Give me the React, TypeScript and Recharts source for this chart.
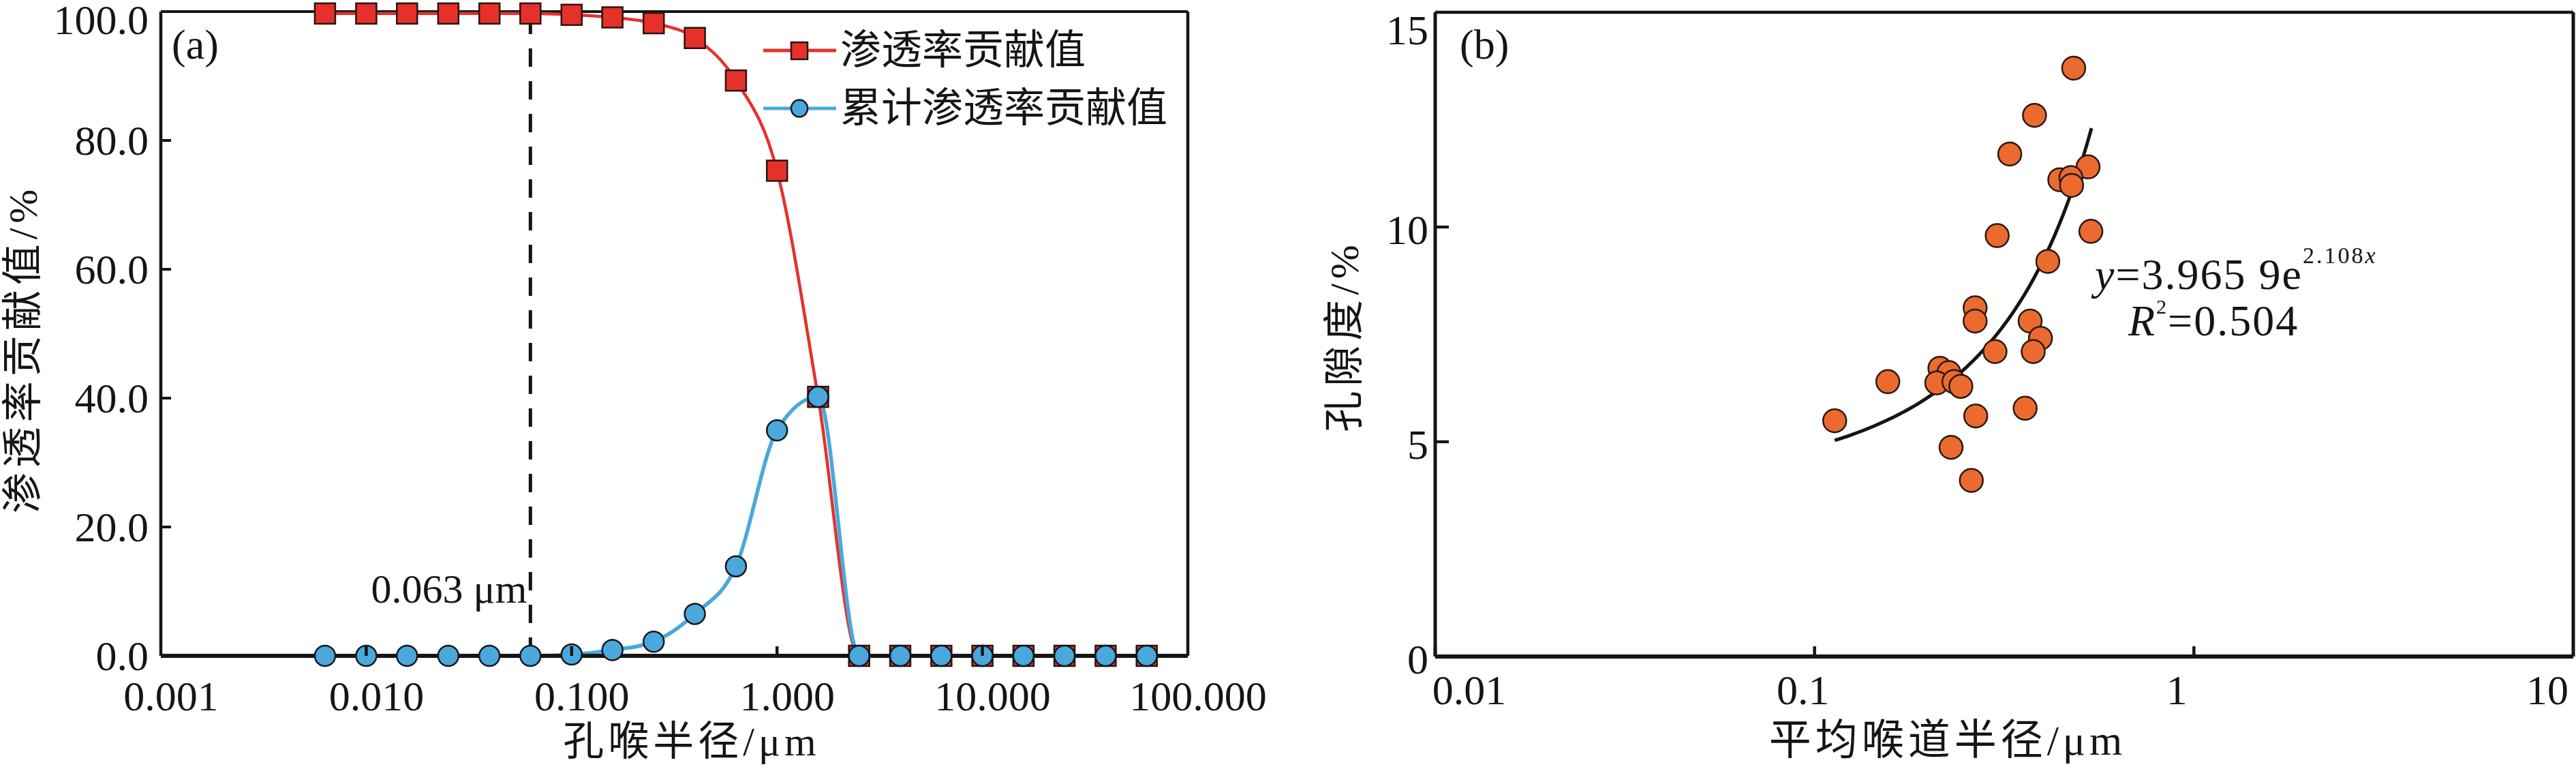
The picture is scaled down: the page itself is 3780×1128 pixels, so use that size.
import { LineChart, Line, XAxis, YAxis, ReferenceLine, Legend, ComposedChart, Scatter } from 'recharts';

// (a) pore-throat radius classes, μm
const radius = [
  0.0063, 0.01, 0.0158, 0.0251, 0.0398, 0.063, 0.1, 0.158, 0.251, 0.398, 0.631,
  1.0, 1.585, 2.51, 3.98, 6.31, 10, 15.85, 25.1, 39.8, 63.1,
];
const permContribution = [
  99.7, 99.7, 99.7, 99.7, 99.7, 99.7, 99.5, 99.1, 98.2, 95.9, 89.3,
  75.3, 40.2, 0, 0, 0, 0, 0, 0, 0, 0,
];
const cumPermContribution = [
  0, 0, 0, 0, 0, 0, 0.2, 0.9, 2.2, 6.5, 13.9,
  35.0, 40.2, 0, 0, 0, 0, 0, 0, 0, 0,
];
const radiusTicks = [0.001, 0.01, 0.1, 1, 10, 100];
const contribTicks = [0, 20, 40, 60, 80, 100];
const cutoffRadius = 0.063;

// (b) mean throat radius (μm) vs porosity (%)
const meanThroatRadius = [
  0.482, 0.38, 0.327, 0.526, 0.443, 0.474, 0.476, 0.303, 0.535, 0.412,
  0.265, 0.265, 0.37, 0.394, 0.377, 0.299, 0.214, 0.226, 0.21, 0.233,
  0.243, 0.156, 0.113, 0.266, 0.359, 0.229, 0.259,
];
const porosity = [
  13.7, 12.6, 11.7, 11.4, 11.1, 11.15, 10.97, 9.8, 9.9, 9.2,
  8.12, 7.81, 7.81, 7.41, 7.1, 7.1, 6.71, 6.61, 6.37, 6.4,
  6.29, 6.4, 5.49, 5.6, 5.78, 4.87, 4.1,
];
const meanRadiusTicks = [0.01, 0.1, 1, 10];
const porosityTicks = [0, 5, 10, 15];

// exponential fit y = a·e^(b·x) and the x span it was drawn over
const fitA = 3.9659;
const fitB = 2.108;
const fitFrom = 0.113;
const fitTo = 0.537;

const rowsA = radius.map((r, i) => ({ r, perm: permContribution[i], cum: cumPermContribution[i] }));
const pointsB = meanThroatRadius.map((x, i) => ({ x, y: porosity[i] }));
const fitLine = Array.from({ length: 41 }, (_, i) => {
  const x = fitFrom + ((fitTo - fitFrom) * i) / 40;
  return { x, y: fitA * Math.exp(fitB * x) };
});

const INK = '#151515';
const RED = '#e5312a';
const BLUE = '#4aa8dc';
const ORANGE = '#eb6a30';
const SERIF = "'Liberation Serif', 'Times New Roman', serif";
const MIXED = "'Liberation Serif', 'Noto Sans CJK SC', sans-serif";

const fmt3 = (v: number) => v.toFixed(3);

function TickBottomA(props: any) {
  const { x, y, payload, index } = props;
  const inner = index > 0 && index < radiusTicks.length - 1;
  return (
    <g>
      {inner && <line x1={x} x2={x} y1={y} y2={y - 14} stroke={INK} strokeWidth={4.5} />}
      <text x={x + 15} y={y + 80} textAnchor="middle" fontFamily={SERIF} fontSize={62} fill={INK}>
        {fmt3(payload.value)}
      </text>
    </g>
  );
}

function TickLeftA(props: any) {
  const { x, y, payload } = props;
  const v = payload.value as number;
  return (
    <g>
      {v > 0 && v < 100 && <line x1={x} x2={x + 15} y1={y} y2={y} stroke={INK} strokeWidth={4} />}
      <text x={x - 18} y={Math.max(y + 21, 50)} textAnchor="end" fontFamily={SERIF} fontSize={62} fill={INK}>
        {v.toFixed(1)}
      </text>
    </g>
  );
}

const shiftB = [50, -17, -25, -38];

function TickBottomB(props: any) {
  const { x, y, payload, index } = props;
  return (
    <g>
      {index < meanRadiusTicks.length - 1 && (
        <line x1={x} x2={x} y1={y} y2={y - 15} stroke={INK} strokeWidth={4.5} />
      )}
      <text x={x + shiftB[index]} y={y + 70} textAnchor="middle" fontFamily={SERIF} fontSize={62} fill={INK}>
        {String(payload.value)}
      </text>
    </g>
  );
}

function TickLeftB(props: any) {
  const { x, y, payload } = props;
  const v = payload.value as number;
  return (
    <g>
      {v > 0 && v < 15 && <line x1={x} x2={x + 20} y1={y} y2={y} stroke={INK} strokeWidth={4.3} />}
      <text x={x - 10} y={Math.max(y + 25, 65)} textAnchor="end" fontFamily={SERIF} fontSize={62} fill={INK}>
        {String(v)}
      </text>
    </g>
  );
}

const squareDot = (p: any) => (
  <rect key={`sq-${p.index}`} x={p.cx - 15} y={p.cy - 15} width={30} height={30}
    fill={RED} stroke="#2a1512" strokeWidth={2.5} />
);

const circleDot = (p: any) => (
  <circle key={`ci-${p.index}`} cx={p.cx} cy={p.cy} r={15}
    fill={BLUE} stroke="#15181c" strokeWidth={2.5} />
);

function LegendA(props: any) {
  const items = props.payload || [];
  return (
    <svg width={640} height={190}>
      {items.map((it: any, i: number) => {
        const cy = 64 + i * 85;
        return (
          <g key={it.value}>
            <line x1={10} x2={117} y1={cy} y2={cy} stroke={it.color} strokeWidth={5} />
            {i === 0 ? (
              <rect x={51} y={cy - 12} width={24} height={25} fill={RED} stroke="#2a1512" strokeWidth={2.5} />
            ) : (
              <ellipse cx={63} cy={cy} rx={12} ry={12.5} fill={BLUE} stroke="#15181c" strokeWidth={2.5} />
            )}
            <text x={123} y={cy} dominantBaseline="central" fontFamily={MIXED} fontSize={60} fill={INK}>
              {it.value}
            </text>
          </g>
        );
      })}
    </svg>
  );
}

const cutoffLabel = (p: any) => {
  const vb = p.viewBox;
  return (
    <text x={vb.x - 5} y={vb.y + vb.height - 78} textAnchor="end" fontFamily={SERIF} fontSize={60} fill={INK}>
      {cutoffRadius} μm
    </text>
  );
};

export default function App() {
  return (
    <div style={{ position: 'absolute', left: 0, top: 0, width: 3780, height: 1128, background: '#fff', overflow: 'hidden' }}>
      <div style={{ position: 'absolute', left: 0, top: 0 }}>
        <LineChart width={1890} height={1128} data={rowsA} margin={{ top: 17, right: 147, left: 0, bottom: 0 }}>
          <XAxis dataKey="r" type="number" scale="log" domain={[0.001, 100]} ticks={radiusTicks}
            height={166} tickSize={0} tickMargin={0} interval={0} tick={TickBottomA}
            axisLine={{ stroke: INK, strokeWidth: 6 }} />
          <YAxis type="number" domain={[0, 100]} ticks={contribTicks} width={236}
            tickSize={0} tickMargin={0} interval={0} tick={TickLeftA}
            axisLine={{ stroke: INK, strokeWidth: 4.5 }} />
          <ReferenceLine y={100} stroke={INK} strokeWidth={4} />
          <ReferenceLine x={100} stroke={INK} strokeWidth={4.5} />
          <ReferenceLine x={cutoffRadius} stroke={INK} strokeWidth={5} strokeDasharray="27 21" label={cutoffLabel} />
          <Line name="渗透率贡献值" dataKey="perm" type="monotone" stroke={RED} strokeWidth={4.5}
            dot={squareDot} activeDot={false} isAnimationActive={false} />
          <Line name="累计渗透率贡献值" dataKey="cum" type="monotone" stroke={BLUE} strokeWidth={5.5}
            dot={circleDot} activeDot={false} isAnimationActive={false} />
          <Legend layout="vertical" align="center" verticalAlign="middle" content={LegendA}
            wrapperStyle={{ left: 1110, top: 10, width: 640, height: 190 }} />
        </LineChart>
      </div>

      <div style={{ position: 'absolute', left: 1890, top: 0 }}>
        <ComposedChart width={1890} height={1128} margin={{ top: 18, right: 4, left: 0, bottom: 0 }}>
          <XAxis dataKey="x" type="number" scale="log" domain={[0.01, 10]} ticks={meanRadiusTicks}
            height={165} tickSize={0} tickMargin={0} interval={0} tick={TickBottomB}
            axisLine={{ stroke: INK, strokeWidth: 6 }} />
          <YAxis dataKey="y" type="number" domain={[0, 15]} ticks={porosityTicks} width={216}
            tickSize={0} tickMargin={0} interval={0} tick={TickLeftB}
            axisLine={{ stroke: INK, strokeWidth: 5 }} />
          <ReferenceLine y={15} stroke={INK} strokeWidth={4.5} />
          <ReferenceLine x={10} stroke={INK} strokeWidth={5} />
          <Scatter data={pointsB} dataKey="y" isAnimationActive={false}
            shape={(p: any) => (
              <circle cx={p.cx} cy={p.cy} r={17} fill={ORANGE} stroke="#2b1a10" strokeWidth={2.5} />
            )} />
          <Line data={fitLine} dataKey="y" type="monotone" stroke={INK} strokeWidth={5}
            dot={false} activeDot={false} isAnimationActive={false} />
        </ComposedChart>
      </div>

      <svg width={3780} height={1128} style={{ position: 'absolute', left: 0, top: 0, pointerEvents: 'none' }}>
        <text x={252} y={86} fontFamily={SERIF} fontSize={62} fill={INK}>(a)</text>
        <text x={2142} y={86} fontFamily={SERIF} fontSize={62} fill={INK}>(b)</text>

        <text x={34} y={512} transform="rotate(-90 34 512)" textAnchor="middle" dominantBaseline="central"
          fontFamily={MIXED} fontSize={60} letterSpacing={7} fill={INK}>渗透率贡献值/%</text>
        <text x={1015} y={1088} textAnchor="middle" dominantBaseline="central"
          fontFamily={MIXED} fontSize={60} letterSpacing={6} fill={INK}>孔喉半径/μm</text>

        <text x={1973} y={493} transform="rotate(-90 1973 493)" textAnchor="middle" dominantBaseline="central"
          fontFamily={MIXED} fontSize={60} letterSpacing={7} fill={INK}>孔隙度/%</text>
        <text x={2858} y={1086} textAnchor="middle" dominantBaseline="central"
          fontFamily={MIXED} fontSize={62} letterSpacing={6} fill={INK}>平均喉道半径/μm</text>

        <text x={3074} y={424} fontFamily={SERIF} fontSize={64} letterSpacing={2} fill={INK}>
          <tspan fontStyle="italic">y</tspan>=3.965 9e
          <tspan dy={-38} fontSize={34} letterSpacing={3}>2.108<tspan fontStyle="italic">x</tspan></tspan>
        </text>
        <text x={3123} y={492} fontFamily={SERIF} fontSize={64} letterSpacing={2} fill={INK}>
          <tspan fontStyle="italic">R</tspan>
          <tspan dy={-32} fontSize={30}>2</tspan>
          <tspan dy={32}>=0.504</tspan>
        </text>
      </svg>
    </div>
  );
}
